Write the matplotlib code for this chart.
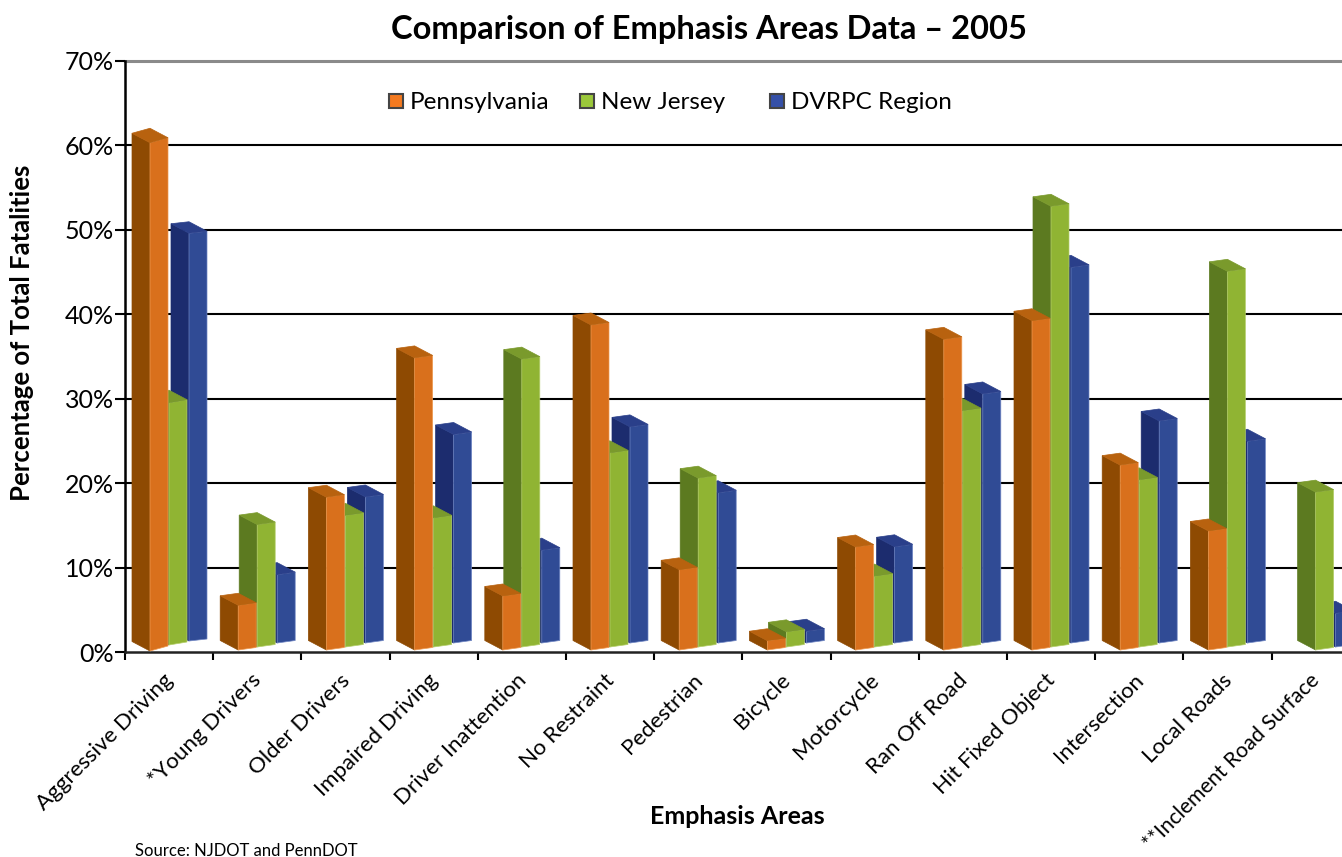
import matplotlib
matplotlib.use("Agg")
import matplotlib.pyplot as plt
from matplotlib.patches import Rectangle
from matplotlib.transforms import ScaledTranslation

plt.rcParams['font.family'] = ['Lato', 'DejaVu Sans']

categories = ["Aggressive Driving", "*Young Drivers", "Older Drivers", "Impaired Driving",
              "Driver Inattention", "No Restraint", "Pedestrian", "Bicycle", "Motorcycle",
              "Ran Off Road", "Hit Fixed Object", "Intersection", "Local Roads",
              "**Inclement Road Surface"]
pennsylvania = [60.2, 5.3, 18.1, 34.6, 6.4, 38.5, 9.5, 1.1, 12.2, 36.8, 39.0, 21.9, 14.1, None]
new_jersey = [28.7, 14.5, 15.6, 15.3, 34.1, 23.0, 20.0, 1.8, 8.4, 28.0, 52.2, 19.8, 44.5, 18.7]
dvrpc = [48.3, 8.1, 17.3, 24.7, 11.0, 25.6, 17.8, 1.4, 11.4, 29.5, 44.5, 26.3, 23.9, 4.0]
y_ticks = [0, 10, 20, 30, 40, 50, 60, 70]

W, H = 1342, 857
AX_L, AX_R, AX_T, AX_B = 125, 1342, 61, 652
PX_X = 88.2   # pixels per category
PX_Y = 8.45   # pixels per percentage point

# Extruded-bar look, in pixels: front-face width, depth vector and per-series placement
BAR_W = 18
DEPTH = (-18, 9.5)
SERIES_DX = [25, 44, 64]
SERIES_LIFT = [2, 5, 9]
FIRST_LIFT = [1, 7, 11]
LAST_LIFT = [2, 2, 5]
FIRST_RISE = [5, 3, 2]
RISE = 2.5
FRONT = ["#D9701C", "#90B433", "#304B95"]
SIDE = ["#8E4A02", "#5C7A20", "#1C2C6E"]
TOP = ["#B8620F", "#7A9A2C", "#2A3F8A"]
EDGE = ["#EE9A50", "#B4CE6A", "#6F86C4"]
LEGEND_FILL = ["#F47A20", "#9BC83A", "#3550A8"]
LEGEND_X = [389, 580, 770]
LEGEND_NAMES = ["Pennsylvania", "New Jersey", "DVRPC Region"]


def fx(px):
    return px / PX_X


def fy(px):
    return px / PX_Y


fig = plt.figure(figsize=(W / 100, H / 100), dpi=100)
fig.patch.set_facecolor("white")
ax = fig.add_axes([AX_L / W, 1 - AX_B / H, (AX_R - AX_L) / W, (AX_B - AX_T) / H])
ax.set_xlim(0, (AX_R - AX_L) / PX_X)
ax.set_ylim(0, 70)


def draw_bar(cat, series, value):
    rise = FIRST_RISE[series] if cat == 0 else RISE
    dx = fx(BAR_W)
    dy = fy(rise)
    ddx, ddy = fx(DEPTH[0]), fy(DEPTH[1])
    x0 = cat + fx(SERIES_DX[series])
    if cat == 0:
        lift = FIRST_LIFT[series]
    elif cat == len(categories) - 1:
        lift = LAST_LIFT[series]
    else:
        lift = SERIES_LIFT[series]
    b = fy(lift)
    t = b + value
    z = 5 + (2 - series) + cat * 3
    kw = dict(zorder=z, linewidth=0.5)
    # left side, front, then top face
    ax.fill([x0 + ddx, x0, x0, x0 + ddx], [b + ddy, b, t, t + ddy],
            facecolor=SIDE[series], edgecolor=SIDE[series], **kw)
    ax.fill([x0, x0 + dx, x0 + dx, x0], [b, b + dy, t + dy, t],
            facecolor=FRONT[series], edgecolor=EDGE[series], **kw)
    ax.fill([x0, x0 + dx, x0 + dx + ddx, x0 + ddx], [t, t + dy, t + dy + ddy, t + ddy],
            facecolor=TOP[series], edgecolor=TOP[series], **kw)


for s, vals in enumerate([pennsylvania, new_jersey, dvrpc]):
    for c, v in enumerate(vals):
        if v is not None:
            draw_bar(c, s, v)

# Grid and axes
for y in y_ticks[1:-1]:
    ax.axhline(y, color="black", lw=1.5, zorder=1)
ax.axhline(70, color="#8A8A8A", lw=2.2, zorder=1, clip_on=False)
for side in ["top", "right"]:
    ax.spines[side].set_visible(False)
ax.spines["left"].set_linewidth(1.8)
ax.spines["bottom"].set_linewidth(1.8)
ax.spines["bottom"].set_color("#222222")

ax.set_yticks(y_ticks)
ax.set_yticklabels([f"{y}%" for y in y_ticks], fontsize=18)
ax.tick_params(axis="y", length=7, width=1.5, pad=1)
ax.set_xticks(range(14))
ax.set_xticklabels([])
ax.tick_params(axis="x", which="major", length=6, width=1.5)
ax.set_xticks([i + 0.5 for i in range(14)], minor=True)
ax.set_xticklabels(categories, minor=True, rotation=45, ha="right", va="top",
                   rotation_mode="anchor", fontsize=16)
ax.tick_params(axis="x", which="minor", length=0, pad=13)
shift = ScaledTranslation(-6 / 100, 0, fig.dpi_scale_trans)
minor_labels = ax.get_xticklabels(minor=True)
for lab in minor_labels:
    lab.set_transform(lab.get_transform() + shift)
# The longest name is kept a touch smaller so it stays on the canvas
minor_labels[-1].set_fontsize(15.3)

fig.text(709 / W, 1 - 29 / H, "Comparison of Emphasis Areas Data \u2013 2005",
         fontsize=23.5, fontweight="bold", ha="center", va="center")
fig.text(737 / W, 1 - 816 / H, "Emphasis Areas", fontsize=18, fontweight="bold",
         ha="center", va="center")
fig.text(22 / W, 1 - 333 / H, "Percentage of Total Fatalities", fontsize=18.5, fontweight="bold",
         rotation=90, ha="center", va="center")
fig.text(135 / W, 1 - 851 / H, "Source: NJDOT and PennDOT", fontsize=12, ha="left", va="center")

# Legend swatches and names
for x, fill, name in zip(LEGEND_X, LEGEND_FILL, LEGEND_NAMES):
    fig.add_artist(Rectangle((x / W, 1 - 108 / H), 14 / W, 14 / H, transform=fig.transFigure,
                             facecolor=fill, edgecolor="#444444", linewidth=1.5))
    fig.text((x + 21) / W, 1 - 102.5 / H, name, fontsize=17.5, ha="left", va="center")

fig.savefig("out.png", dpi=100)
